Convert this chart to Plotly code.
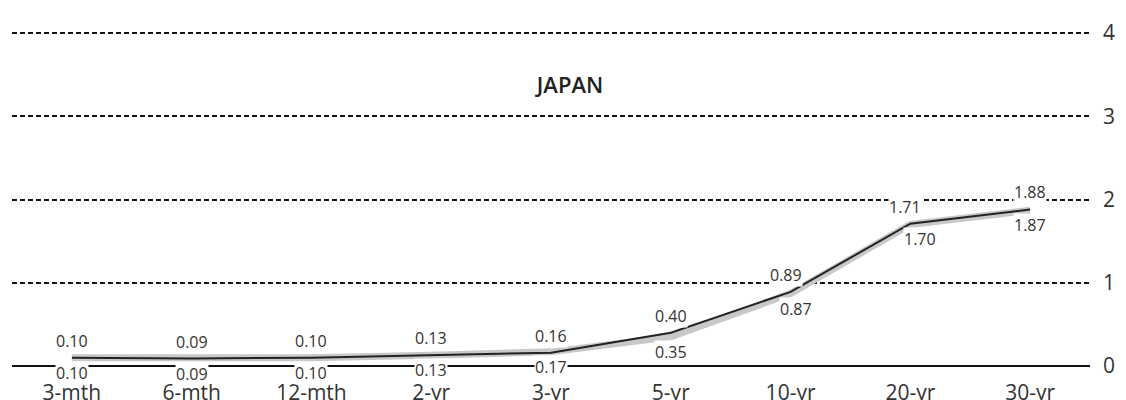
import plotly.graph_objects as go

categories = ["3-mth", "6-mth", "12-mth", "2-yr", "3-yr", "5-yr", "10-yr", "20-yr", "30-yr"]
current = [0.10, 0.09, 0.10, 0.13, 0.16, 0.40, 0.89, 1.71, 1.88]
previous = [0.10, 0.09, 0.10, 0.13, 0.17, 0.35, 0.87, 1.70, 1.87]
y_ticks = [0, 1, 2, 3, 4]
title_text = "JAPAN"

FONT = "Open Sans"
fig = go.Figure()

fig.add_trace(go.Scatter(x=categories, y=previous, mode="lines",
                         line=dict(color="#c8c8c8", width=7), hoverinfo="skip"))
fig.add_trace(go.Scatter(x=categories, y=current, mode="lines",
                         line=dict(color="#222222", width=2), hoverinfo="skip"))

up_xshift = [0, 0, 0, 0, 0, 0, -5, -5, 0]
dn_xshift = [0, 0, 0, 0, 0, 0, 5, 10, 0]
for i, c in enumerate(categories):
    fig.add_annotation(x=c, y=current[i], xref="x", yref="y", text=f"{current[i]:.2f}",
                       showarrow=False, yshift=17, xshift=up_xshift[i],
                       font=dict(family=FONT, size=16, color="#333333"),
                       bgcolor="white", borderpad=0)
    fig.add_annotation(x=c, y=previous[i], xref="x", yref="y", text=f"{previous[i]:.2f}",
                       showarrow=False, yshift=-15, xshift=dn_xshift[i],
                       font=dict(family=FONT, size=16, color="#333333"),
                       bgcolor="white", borderpad=0)

fig.update_layout(
    width=1126, height=400,
    margin=dict(l=12, r=36, t=20, b=22, autoexpand=False),
    paper_bgcolor="white", plot_bgcolor="white",
    showlegend=False,
    title=dict(text=title_text, x=570/1126, xanchor="center", y=1-85/400, yanchor="middle",
               font=dict(family=FONT, size=22, color="#222222", weight=600)),
    xaxis=dict(type="category", categoryorder="array", categoryarray=categories,
               range=[-0.5, len(categories)-0.5], showgrid=False, zeroline=False,
               showline=False, ticks="", automargin=False,
               tickfont=dict(family=FONT, size=21, color="#333333")),
    yaxis=dict(side="right", range=[-0.144, 4.156], tickvals=y_ticks,
               showgrid=True, gridcolor="#111111", gridwidth=1.5, griddash="5px,3px",
               zeroline=True, zerolinecolor="#111111", zerolinewidth=2,
               showline=False, ticks="", ticklabelstandoff=12, automargin=False,
               tickfont=dict(family=FONT, size=21, color="#333333")),
)

fig.write_html("out.html")
